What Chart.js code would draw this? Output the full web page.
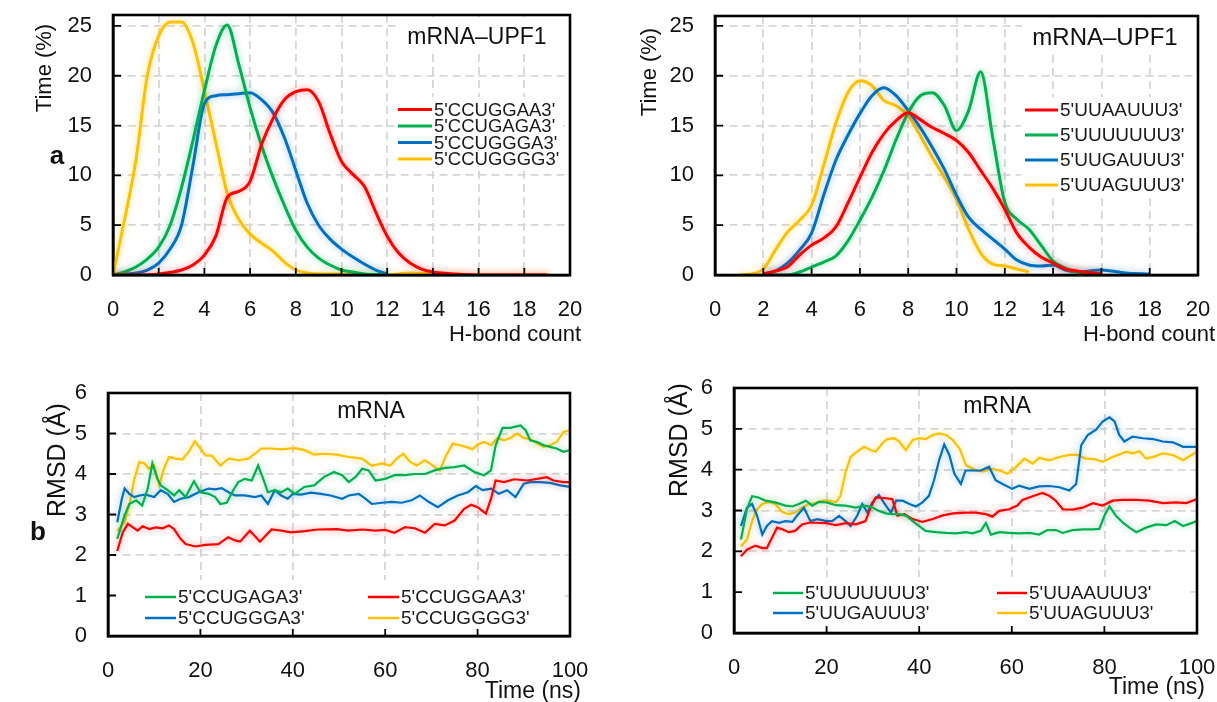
<!DOCTYPE html>
<html>
<head>
<meta charset="utf-8">
<script src="https://cdn.jsdelivr.net/npm/chart.js@4"></script>
<style>
  body { margin: 0; background: #fff; width: 1217px; height: 702px; overflow: hidden; position: relative; }
  canvas { position: absolute; left: 0; top: 0; }
</style>
</head>
<body>
<canvas id="hbLeft" width="1217" height="702"></canvas>
<canvas id="hbRight" width="1217" height="702"></canvas>
<canvas id="rmsdLeft" width="1217" height="702"></canvas>
<canvas id="rmsdRight" width="1217" height="702"></canvas>
<script>
const FONT = "'Liberation Sans', Arial, sans-serif";
const RED = '#ff0000', GREEN = '#00b050', BLUE = '#0070c0', GOLD = '#ffc000';

// ---- panel a: H-bond count vs % of time, [count, %] ----
const hbLabelsL = ["5'CCUGGAA3'", "5'CCUGAGA3'", "5'CCUGGGA3'", "5'CCUGGGG3'"];
const hbCCUGGAA = [[0,0],[1,0],[2,0.1],[3,0.5],[3.5,1.0],[4,2.0],[4.5,3.9],[5,7.8],[5.5,8.4],[6,9.4],[6.5,13.1],[7,15.7],[7.5,17.6],[8,18.4],[8.5,18.6],[9,17.4],[9.5,14.2],[10,11.4],[10.5,10.1],[11,8.9],[11.5,6.3],[12,3.9],[12.5,2.2],[13,1.2],[13.5,0.6],[14,0.3],[15,0.1],[16,0],[17,0],[18,0],[19,0]];
const hbCCUGAGA = [[0,0],[0.5,0.3],[1,0.8],[1.5,1.6],[2,2.8],[2.5,5],[3,8.8],[3.5,13.5],[4,18.5],[4.5,23],[5,25.1],[5.5,21.2],[6,16.8],[6.5,13],[7,9.8],[7.5,7],[8,4.5],[8.5,2.8],[9,1.7],[9.5,1.0],[10,0.5],[10.5,0.3],[11,0.1],[12,0]];
const hbCCUGGGA = [[0,0],[1,0.2],[1.5,0.5],[2,1.2],[2.5,2.6],[3,5],[3.5,11],[4,17.2],[4.5,18],[5,18.1],[5.5,18.2],[6,18.3],[6.5,17.6],[7,16.3],[7.5,13.8],[8,10.5],[8.5,7.2],[9,5],[9.5,3.6],[10,2.6],[10.5,1.8],[11,1.1],[11.5,0.5],[12,0.1]];
const hbCCUGGGG = [[0,0],[0.5,5.5],[1,11.5],[1.5,20],[2,24],[2.5,25.4],[3,25.4],[3.5,23.3],[4,18.5],[4.5,13.3],[5,8.2],[5.5,5.6],[6,4.1],[6.5,3.2],[7,2.4],[7.5,1.3],[8,0.5],[8.5,0.2],[9,0.1],[10,0.1],[11,0],[12,0],[13,0.2],[14,0.1],[15,0],[16,0],[17,0],[18,0],[19,0]];

const hbLabelsR = ["5'UUAAUUU3'", "5'UUUUUUU3'", "5'UUGAUUU3'", "5'UUAGUUU3'"];
const hbUUAAUUU = [[2,0.1],[2.5,0.4],[3,0.8],[3.5,2],[4,3],[4.5,3.7],[5,4.8],[5.5,7.2],[6,9.8],[6.5,12.3],[7,14.2],[7.5,15.5],[8,16.3],[8.5,15.6],[9,14.8],[9.5,14.2],[10,13.5],[10.5,12.3],[11,10.5],[11.5,8.7],[12,6.6],[12.5,4.2],[13,2.8],[13.5,1.8],[14,1.2],[14.5,0.6],[15,0.4],[16,0.1]];
const hbUUUUUUU = [[2,0],[3,0],[3.5,0.3],[4,0.8],[4.5,1.3],[5,1.9],[5.5,3.4],[6,5.5],[6.5,7.8],[7,10.5],[7.5,13.6],[8,16.3],[8.5,18],[9,18.3],[9.5,17],[10,14.5],[10.5,16.5],[11,20.4],[11.5,13.8],[12,7.3],[12.5,5.6],[13,4.6],[13.5,3],[14,1.4],[14.5,0.7],[15,0.3],[16,0]];
const hbUUGAUUU = [[2,0.1],[2.5,0.4],[3,1.2],[3.5,2.5],[4,4.2],[4.5,8],[5,11.5],[5.5,14],[6,16.2],[6.5,18],[7,18.8],[7.5,18],[8,16.5],[8.5,14.8],[9,12.8],[9.5,10.6],[10,8],[10.5,5.8],[11,4.6],[11.5,3.6],[12,2.6],[12.5,1.5],[13,1],[13.5,0.9],[14,1.0],[14.5,0.5],[15,0.3],[16,0.5],[17,0.2],[18,0.1]];
const hbUUAGUUU = [[1,0],[1.5,0.1],[2,0.6],[2.5,2.5],[3,4.3],[3.5,5.5],[4,7],[4.5,11],[5,15.2],[5.5,18.3],[6,19.5],[6.5,19],[7,17.5],[7.5,17],[8,16],[8.5,14],[9,11.8],[9.5,9.8],[10,7.6],[10.5,4.6],[11,2.2],[11.5,1.1],[12,0.9],[12.5,0.6],[13,0.3]];

// ---- panel b: RMSD (A) vs time (ns), [ns, A] ----
const rmsdLabelsL = ["5'CCUGAGA3'", "5'CCUGGAA3'", "5'CCUGGGA3'", "5'CCUGGGG3'"];
const rmsdCCUGAGA = [[2,2.4],[3.6,2.98],[4.6,3.26],[6.1,3.35],[7.4,3.22],[8.6,3.64],[9.6,4.26],[10.7,3.88],[11.4,3.72],[12.9,3.6],[14.3,3.47],[15.4,3.6],[16.8,3.43],[18.6,3.82],[20,3.55],[21.8,3.51],[23.2,3.43],[24.3,3.26],[25.7,3.29],[27.1,3.6],[28.2,3.8],[29.6,3.88],[31.1,3.84],[32.5,4.21],[33.6,3.88],[34.6,3.55],[36.1,3.6],[37.5,3.55],[38.9,3.64],[40.4,3.51],[42.5,3.68],[44.6,3.72],[46.8,3.93],[48.9,4.05],[50.7,3.97],[52.1,3.8],[53.6,3.93],[55,4.13],[56.4,4.09],[57.9,3.84],[60,3.88],[62,3.97],[64.3,3.97],[66.4,4.0],[68.6,4.0],[70.7,4.09],[72.9,4.15],[75,4.17],[77.1,4.21],[79.3,4.05],[81.4,3.97],[82.9,4.09],[83.9,4.71],[85.4,5.14],[87.1,5.14],[89.3,5.2],[90.4,5.08],[91.4,4.83],[92.9,4.79],[94.3,4.71],[95.7,4.67],[97.1,4.63],[98.6,4.55],[100,4.59]];
const rmsdCCUGGAA = [[2,2.1],[3.2,2.56],[4.3,2.77],[5.4,2.68],[6.4,2.6],[7.5,2.71],[8.9,2.64],[10.4,2.68],[11.8,2.66],[13.2,2.73],[14.3,2.64],[15.7,2.4],[16.8,2.27],[18.9,2.21],[21,2.25],[23.9,2.27],[26,2.44],[27.5,2.36],[28.6,2.33],[30.7,2.6],[32.9,2.33],[35.4,2.63],[37.5,2.6],[39.6,2.56],[42.5,2.59],[45.4,2.63],[49.5,2.64],[52,2.6],[55,2.63],[57.9,2.6],[60,2.62],[62,2.55],[64.3,2.69],[66.4,2.66],[68.6,2.55],[70.7,2.77],[72.9,2.73],[75,2.85],[77.1,3.14],[78.6,3.24],[80,3.18],[81.8,3.02],[82.9,3.39],[83.9,3.84],[85.7,3.8],[87.9,3.87],[90.7,3.84],[92.9,3.88],[95,3.92],[96.4,3.84],[98.6,3.8],[100,3.8]];
const rmsdCCUGGGA = [[2,2.81],[3,3.39],[3.6,3.64],[4.6,3.51],[5.7,3.43],[6.8,3.47],[8.2,3.49],[10,3.43],[11.4,3.6],[12.9,3.51],[14.3,3.31],[15.7,3.39],[17.5,3.43],[19.6,3.55],[21.8,3.64],[23.2,3.62],[24.6,3.65],[26.1,3.55],[27.5,3.47],[29.6,3.47],[31.8,3.43],[33.2,3.47],[34.6,3.26],[36.1,3.6],[37.5,3.47],[38.9,3.39],[40,3.51],[41.8,3.49],[43.9,3.54],[46.1,3.51],[48.2,3.47],[50.7,3.39],[52.1,3.47],[54.3,3.51],[55.7,3.39],[57.1,3.26],[59.3,3.29],[61.4,3.31],[63.6,3.29],[65.7,3.35],[67.5,3.47],[69.3,3.32],[71.4,3.18],[73.6,3.35],[75.7,3.47],[77.9,3.55],[79.6,3.7],[81.1,3.6],[82.9,3.64],[84.6,3.51],[86.4,3.6],[88.2,3.43],[90,3.76],[91.4,3.8],[93.6,3.8],[95.7,3.78],[97.9,3.72],[100,3.68]];
const rmsdCCUGGGG = [[2,2.6],[3.6,2.81],[4.6,3.22],[5.7,3.88],[6.8,4.3],[7.9,4.26],[8.9,4.13],[10,4.21],[11.1,3.72],[12.1,4.13],[13.2,4.42],[14.6,4.38],[16.1,4.36],[17.5,4.55],[18.8,4.81],[20,4.63],[21.1,4.46],[22.5,4.45],[24.3,4.21],[26.1,4.38],[28.2,4.34],[30.4,4.38],[31.8,4.5],[33.2,4.63],[35.4,4.63],[37.5,4.61],[40.4,4.64],[42.5,4.59],[44.6,4.48],[46.8,4.5],[49.5,4.48],[52.1,4.42],[55,4.38],[57.1,4.2],[59.3,4.26],[61.1,4.21],[62.5,4.38],[63.9,4.5],[65.4,4.3],[66.8,4.21],[68.6,4.34],[70,4.23],[71.8,4.09],[73.2,4.46],[74.6,4.75],[76.1,4.71],[77.5,4.67],[78.9,4.61],[80,4.73],[81.4,4.79],[82.9,4.71],[84.3,4.89],[85.7,4.83],[87.1,4.89],[88.6,5.0],[90,4.89],[91.4,4.86],[92.9,4.75],[94.3,4.67],[95.7,4.71],[97.1,4.79],[98.6,5.04],[100,5.08]];

const rmsdLabelsR = ["5'UUUUUUU3'", "5'UUAAUUU3'", "5'UUGAUUU3'", "5'UUAGUUU3'"];
const rmsdUUUUUUU = [[1.5,2.29],[2.8,3.03],[3.9,3.35],[5.3,3.32],[6.8,3.24],[8.9,3.2],[11.1,3.12],[12.6,3.1],[14,3.16],[15.5,3.24],[16.9,3.12],[18.3,3.21],[20,3.2],[22,3.13],[24.1,3.12],[26.3,3.07],[28.4,3.12],[29.9,3.07],[31.3,2.99],[32.8,2.93],[34.2,2.91],[35.7,2.91],[37.2,2.87],[38.6,2.74],[40,2.62],[41.4,2.5],[43.6,2.47],[45.8,2.45],[47.9,2.44],[50.1,2.47],[51.5,2.44],[53.3,2.5],[54.4,2.69],[55.5,2.41],[57.3,2.47],[59.4,2.45],[61.6,2.44],[63.8,2.45],[65.9,2.41],[67.7,2.52],[69.5,2.52],[71,2.45],[73.1,2.52],[75.3,2.54],[77.5,2.54],[78.9,2.55],[80,2.87],[81.1,3.1],[82.5,2.87],[84,2.7],[85.4,2.58],[86.9,2.47],[89,2.58],[91.2,2.66],[93.4,2.64],[95.2,2.74],[97,2.62],[98.8,2.69],[100,2.74]];
const rmsdUUAAUUU = [[1.5,1.88],[2.8,2.04],[4.6,2.14],[6.1,2.08],[7.1,2.08],[8.2,2.33],[9.3,2.58],[10.4,2.54],[11.8,2.47],[13.2,2.5],[14.7,2.66],[16.2,2.7],[17.6,2.7],[20,2.69],[22,2.64],[24.1,2.69],[26.3,2.66],[28.4,2.74],[29.5,3.07],[30.6,3.32],[32.8,3.3],[34.2,3.28],[35.3,2.87],[36.8,2.91],[38.6,2.79],[40.7,2.72],[42.9,2.79],[45.1,2.88],[47.3,2.93],[50.2,2.95],[52.2,2.95],[54.4,2.91],[55.8,2.85],[57.3,2.99],[59.4,3.03],[61.2,3.12],[62.3,3.26],[64.5,3.35],[66.6,3.43],[68.1,3.36],[69.5,3.24],[71,3.03],[73.1,3.02],[75.3,3.07],[77.5,3.18],[79.6,3.12],[81.8,3.24],[84,3.26],[86.9,3.26],[89.7,3.24],[92.6,3.18],[95.5,3.2],[97.7,3.18],[100,3.28]];
const rmsdUUGAUUU = [[1.5,2.62],[2.8,3.07],[3.9,3.16],[5,2.87],[6.1,2.41],[7.1,2.62],[8.2,2.74],[9.7,2.7],[11.1,2.74],[12.6,2.72],[13.6,2.87],[15.1,3.07],[16.5,2.74],[18,2.79],[20,2.74],[21.2,2.74],[22.7,2.87],[24.1,2.74],[25.2,2.62],[26.6,2.87],[27.7,3.16],[28.8,2.95],[29.9,3.2],[31.3,3.38],[32.8,3.12],[33.9,2.95],[35,3.24],[36.4,3.24],[37.9,3.16],[39.3,3.1],[40.7,3.2],[42.1,3.36],[43.2,3.74],[44.3,4.23],[45.4,4.62],[46.5,4.36],[47.6,3.9],[49,3.65],[50,3.98],[51.5,3.98],[53.3,3.98],[55.1,4.07],[56.5,3.74],[58,3.65],[60.1,3.53],[61.6,3.61],[63.8,3.53],[65.9,3.59],[68.1,3.6],[70.3,3.57],[72.4,3.49],[73.9,3.65],[75,4.6],[76.4,4.85],[78.2,4.98],[79.6,5.18],[81.1,5.28],[82.2,5.18],[83.2,4.85],[84.3,4.69],[86.1,4.81],[88.3,4.77],[90.5,4.75],[92.6,4.69],[94.8,4.67],[97,4.56],[100,4.56]];
const rmsdUUAGUUU = [[1.5,2.12],[2.8,2.29],[3.9,2.74],[5,3.03],[6.1,3.16],[7.5,3.21],[8.9,3.16],[10.4,2.97],[11.8,2.91],[13.2,2.95],[14.7,3.07],[16.2,3.16],[17.6,3.18],[19.1,3.24],[20.5,3.24],[22,3.2],[23,3.36],[24.1,3.94],[25.2,4.31],[26.6,4.44],[28.1,4.56],[29.5,4.48],[30.6,4.44],[32,4.64],[33.1,4.75],[34.6,4.77],[35.7,4.69],[37.1,4.48],[38.6,4.73],[40,4.77],[41.4,4.75],[42.9,4.85],[44.3,4.89],[45.8,4.85],[47.2,4.73],[48.7,4.52],[50.1,4.11],[50.8,4.07],[52.2,3.98],[53.6,3.96],[55.8,4.02],[57.3,3.98],[59.1,3.9],[60.9,4.07],[62.7,4.27],[64.5,4.15],[65.9,4.29],[68.1,4.23],[70.3,4.31],[72.4,4.36],[74.2,4.36],[76,4.27],[77.8,4.26],[79.6,4.19],[81.4,4.29],[83.2,4.37],[84.7,4.44],[86.1,4.4],[87.6,4.45],[89,4.27],[90.8,4.32],[92.6,4.4],[94.8,4.36],[97,4.23],[98.8,4.36],[100,4.44]];

const glowOf = {};
glowOf[RED] = 'rgba(255,0,0,0.45)';
glowOf[GREEN] = 'rgba(0,176,80,0.45)';
glowOf[BLUE] = 'rgba(0,112,192,0.45)';
glowOf[GOLD] = 'rgba(255,192,0,0.5)';

function series(label, pts, color, width, smooth) {
  return {
    label: label,
    data: pts.map(p => ({ x: p[0], y: p[1] })),
    borderColor: color,
    backgroundColor: color,
    glow: glowOf[color],
    borderWidth: width,
    pointRadius: 0,
    fill: false,
    cubicInterpolationMode: smooth ? 'monotone' : 'default',
    tension: 0,
  };
}

// white boxes, frame with inner ticks, legend and free text
const deco = {
  id: 'deco',
  beforeDatasetsDraw(chart, args, o) {
    const ctx = chart.ctx;
    ctx.save();
    ctx.fillStyle = '#fff';
    o.boxes.forEach(b => ctx.fillRect(b[0], b[1], b[2], b[3]));
    ctx.restore();
  },
  beforeDatasetDraw(chart, args) {
    const ds = chart.data.datasets[args.index];
    chart.ctx.save();
    chart.ctx.shadowColor = ds.glow;
    chart.ctx.shadowBlur = 7;
  },
  afterDatasetDraw(chart) {
    chart.ctx.restore();
  },
  afterDraw(chart, args, o) {
    const ctx = chart.ctx;
    const a = chart.chartArea;
    const x = chart.scales.x, y = chart.scales.y;
    ctx.save();
    ctx.strokeStyle = '#000';
    ctx.lineWidth = 1.8;
    ctx.beginPath();
    y.ticks.forEach(t => {
      const py = y.getPixelForValue(t.value);
      ctx.moveTo(a.left, py); ctx.lineTo(a.left + 8, py);
    });
    x.ticks.forEach(t => {
      const px = x.getPixelForValue(t.value);
      ctx.moveTo(px, a.bottom); ctx.lineTo(px, a.bottom - 7);
    });
    ctx.stroke();
    ctx.lineWidth = 2.6;
    ctx.strokeRect(a.left, a.top, a.right - a.left, a.bottom - a.top);

    const L = o.legend;
    ctx.font = L.size + 'px ' + FONT;
    ctx.textAlign = 'left';
    ctx.textBaseline = 'middle';
    chart.data.datasets.forEach((ds, i) => {
      const lx = L.cols[i % L.cols.length];
      const ly = L.rows[Math.floor(i / L.cols.length)];
      ctx.strokeStyle = ds.borderColor;
      ctx.lineWidth = L.lw;
      ctx.beginPath();
      ctx.moveTo(lx, ly); ctx.lineTo(lx + L.len, ly);
      ctx.stroke();
      ctx.fillStyle = '#1a1a1a';
      ctx.fillText(ds.label, lx + L.len + 2, ly + 1);
    });

    o.texts.forEach(t => {
      ctx.save();
      ctx.fillStyle = '#111';
      ctx.font = (t.bold ? 'bold ' : '') + t.size + 'px ' + FONT;
      ctx.textAlign = t.align || 'center';
      ctx.textBaseline = 'middle';
      ctx.translate(t.x, t.y);
      if (t.rot) ctx.rotate(-Math.PI / 2);
      ctx.fillText(t.text, 0, 0);
      ctx.restore();
    });
    ctx.restore();
  }
};

function axis(max, step, isX) {
  return {
    type: 'linear',
    min: 0,
    max: max,
    ticks: {
      stepSize: step,
      includeBounds: false,
      padding: isX ? 22 : 21,
      maxRotation: 0,
      autoSkip: false,
      color: '#111',
      font: { family: FONT, size: 22 },
    },
    grid: { color: '#d6d6d6', lineWidth: 1.8, drawTicks: false },
    border: { display: true, color: '#000', width: 2.6, dash: [8, 5] },
    afterFit(s) {
      if (isX) { s.height = 60; s.paddingLeft = 0; s.paddingRight = 0; }
      else { s.width = 60; s.paddingTop = 0; s.paddingBottom = 0; }
    },
  };
}

// area = [left, top, right, bottom] of the plotting box on the page
function makeChart(id, area, datasets, xMax, xStep, yMax, yStep, deco0) {
  return new Chart(document.getElementById(id), {
    type: 'line',
    data: { datasets: datasets },
    options: {
      responsive: false,
      animation: false,
      events: [],
      layout: {
        padding: { left: area[0] - 60, top: area[1], right: 1217 - area[2], bottom: 702 - area[3] - 60 },
      },
      scales: { x: axis(xMax, xStep, true), y: axis(yMax, yStep, false) },
      plugins: { legend: { display: false }, tooltip: { enabled: false }, deco: deco0 },
    },
    plugins: [deco],
  });
}

makeChart('hbLeft', [113, 15, 570, 275], [
  series(hbLabelsL[0], hbCCUGGAA, RED, 3, true),
  series(hbLabelsL[1], hbCCUGAGA, GREEN, 3, true),
  series(hbLabelsL[2], hbCCUGGGA, BLUE, 3, true),
  series(hbLabelsL[3], hbCCUGGGG, GOLD, 3, true),
], 20, 2, 26.1, 5, {
  boxes: [[398, 17, 168, 36], [395, 97, 168, 74]],
  legend: { cols: [398], rows: [109.5, 126, 142.5, 159], len: 34, lw: 3, size: 18.5 },
  texts: [
    { text: 'mRNA\u2013UPF1', x: 477, y: 38, size: 23 },
    { text: 'Time (%)', x: 45, y: 68, size: 22, rot: true },
    { text: 'H-bond count', x: 581, y: 335, size: 22, align: 'right' },
    { text: 'a', x: 57, y: 157, size: 26, bold: true },
  ],
});

makeChart('hbRight', [715, 16, 1198, 275], [
  series(hbLabelsR[0], hbUUAAUUU, RED, 3, true),
  series(hbLabelsR[1], hbUUUUUUU, GREEN, 3, true),
  series(hbLabelsR[2], hbUUGAUUU, BLUE, 3, true),
  series(hbLabelsR[3], hbUUAGUUU, GOLD, 3, true),
], 20, 2, 26, 5, {
  boxes: [[1022, 18, 174, 36], [1021, 97, 175, 100]],
  legend: { cols: [1025], rows: [110, 135, 160, 185], len: 33, lw: 3, size: 19 },
  texts: [
    { text: 'mRNA\u2013UPF1', x: 1105, y: 38, size: 24 },
    { text: 'Time (%)', x: 650, y: 72, size: 22, rot: true },
    { text: 'H-bond count', x: 1215, y: 335, size: 22, align: 'right' },
  ],
});

makeChart('rmsdLeft', [108, 393, 570, 636], [
  series(rmsdLabelsL[0], rmsdCCUGAGA, GREEN, 2.2, false),
  series(rmsdLabelsL[1], rmsdCCUGGAA, RED, 2.2, false),
  series(rmsdLabelsL[2], rmsdCCUGGGA, BLUE, 2.2, false),
  series(rmsdLabelsL[3], rmsdCCUGGGG, GOLD, 2.2, false),
], 100, 20, 6, 1, {
  boxes: [[330, 395, 82, 30], [110, 580, 450, 55]],
  legend: { cols: [145, 368], rows: [597, 618], len: 31, lw: 2.5, size: 19 },
  texts: [
    { text: 'mRNA', x: 371, y: 412, size: 23 },
    { text: 'RMSD (\u00c5)', x: 58, y: 460, size: 25, rot: true },
    { text: 'Time (ns)', x: 581, y: 692, size: 23, align: 'right' },
    { text: 'b', x: 38, y: 533, size: 26, bold: true },
  ],
});

makeChart('rmsdRight', [734, 388, 1197, 633], [
  series(rmsdLabelsR[0], rmsdUUUUUUU, GREEN, 2.2, false),
  series(rmsdLabelsR[1], rmsdUUAAUUU, RED, 2.2, false),
  series(rmsdLabelsR[2], rmsdUUGAUUU, BLUE, 2.2, false),
  series(rmsdLabelsR[3], rmsdUUAGUUU, GOLD, 2.2, false),
], 100, 20, 6, 1, {
  boxes: [[955, 390, 85, 30], [736, 577, 450, 54]],
  legend: { cols: [773, 997], rows: [593, 613], len: 30, lw: 2.5, size: 19 },
  texts: [
    { text: 'mRNA', x: 997, y: 407, size: 23 },
    { text: 'RMSD (\u00c5)', x: 680, y: 440, size: 25, rot: true },
    { text: 'Time (ns)', x: 1205, y: 688, size: 23, align: 'right' },
  ],
});
</script>
</body>
</html>
